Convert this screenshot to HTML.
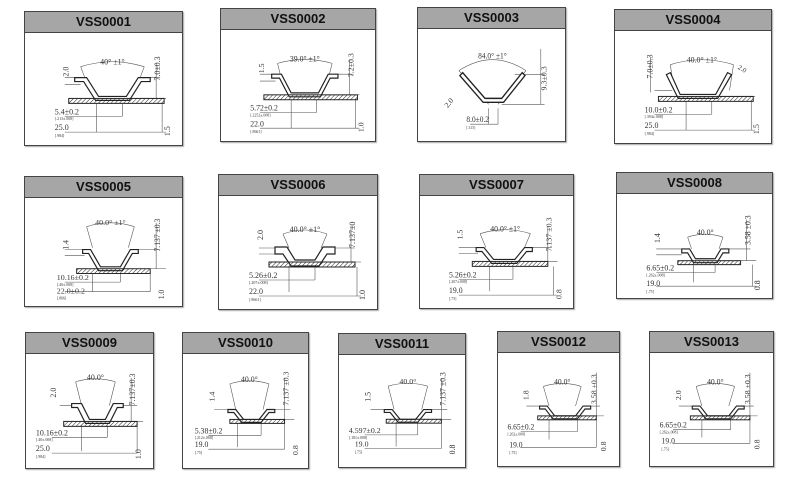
<!DOCTYPE html>
<html><head><meta charset="utf-8"><style>
body{margin:0;width:800px;height:482px;background:#fff;position:relative;overflow:hidden}
.c{position:absolute;border:1px solid #444;background:#fff;box-shadow:1px 1px 1px #aaa;box-sizing:border-box}
.h{background:#a6a6a6;border-bottom:1px solid #444;font:bold 13px "Liberation Sans",sans-serif;text-align:center;height:20px;line-height:20px;color:#111}
svg.d{display:block;width:100%;height:calc(100% - 21px)}
text{font-family:"Liberation Serif",serif;fill:#333}
</style></head><body>
<svg width="0" height="0" style="position:absolute"><defs><pattern id="hp" width="3" height="3" patternUnits="userSpaceOnUse" patternTransform="rotate(45)"><line x1="0" y1="0" x2="0" y2="3" stroke="#222" stroke-width="1"/></pattern></defs></svg>

<div class="c" style="left:24px;top:11px;width:159px;height:135px"><div class="h">VSS0001</div>
<svg class="d" viewBox="0 0 158 113" preserveAspectRatio="none"><g fill="none" stroke="#555" stroke-width=".6"><path d="M56 34Q88 24 120 34M56 34L62 50M120 34L114 50M40 45H58M40 52H56M120 45H136M106 66H142M72 71V100M98 71V84M40 84H98M40 100H142M138 71V100M132 30V66"/></g><path d="M50 45H62L74 64H102L114 45H126V49H117L105 68H71L59 49H50Z" fill="#fff" stroke="#222" stroke-width="1.2"/><rect x="44" y="66" width="96" height="5" fill="url(#hp)" stroke="#222"/><text x="88" y="32" font-size="8" text-anchor="middle">40° ±1°</text><text transform="translate(44,44) rotate(-90)" font-size="8">2.0</text><text x="30" y="82" font-size="8">5.4±0.2</text><text x="30" y="88" font-size="4">[.213±.008]</text><text x="30" y="98" font-size="8">25.0</text><text x="30" y="105" font-size="4">[.984]</text><text transform="translate(136,48) rotate(-90)" font-size="8">7.0±0.3</text><text transform="translate(146,104) rotate(-90)" font-size="8">1.5</text></svg></div>

<div class="c" style="left:220px;top:8px;width:156px;height:134px"><div class="h">VSS0002</div>
<svg class="d" viewBox="0 0 158 113" preserveAspectRatio="none"><g fill="none" stroke="#555" stroke-width=".6"><path d="M58 34Q86 26 114 34M58 34L62 50M114 34L110 50M40 45H58M40 52H56M116 45H136M106 66H142M72 71V100M98 71V84M40 84H98M40 100H142M138 71V100M132 30V66"/></g><path d="M52 45H62L72 64H100L110 45H120V49H112L102 68H70L60 49H52Z" fill="#fff" stroke="#222" stroke-width="1.2"/><rect x="44" y="66" width="96" height="5" fill="url(#hp)" stroke="#222"/><text x="86" y="32" font-size="8" text-anchor="middle">39.0° ±1°</text><text transform="translate(44,44) rotate(-90)" font-size="8">1.5</text><text x="30" y="82" font-size="8">5.72±0.2</text><text x="30" y="88" font-size="4">[.2252±.008]</text><text x="30" y="98" font-size="8">22.0</text><text x="30" y="105" font-size="4">[.8661]</text><text transform="translate(136,48) rotate(-90)" font-size="8">7.2±0.3</text><text transform="translate(146,104) rotate(-90)" font-size="8">1.0</text></svg></div>

<div class="c" style="left:417px;top:7px;width:149px;height:135px"><div class="h">VSS0003</div>
<svg class="d" viewBox="0 0 158 113" preserveAspectRatio="none"><g fill="none" stroke="#555" stroke-width=".6"><path d="M44 42Q80 20 116 42M44 42L76 76M116 42L86 76M76 80V96M86 80V96M56 96H86M104 46H136M90 76H136M132 20V76"/></g><path d="M48 44L72 70H90L112 44L115 47L92 74H70L45 47Z" fill="#fff" stroke="#222" stroke-width="1.4"/><text x="80" y="30" font-size="8" text-anchor="middle">84.0° ±1°</text><text transform="translate(32,80) rotate(-50)" font-size="8">2.0</text><text x="52" y="94" font-size="8">8.0±0.2</text><text x="52" y="101" font-size="4">[.315]</text><text transform="translate(138,62) rotate(-90)" font-size="8">9.3±0.3</text></svg></div>

<div class="c" style="left:614px;top:9px;width:158px;height:135px"><div class="h">VSS0004</div>
<svg class="d" viewBox="0 0 158 113" preserveAspectRatio="none"><g fill="none" stroke="#555" stroke-width=".6"><path d="M56 34Q88 24 120 34M56 34L60 60M120 34L116 60M40 60H58M106 66H142M72 71V100M98 71V84M40 84H98M40 100H142M138 71V100M36 26V62"/></g><path d="M52 44L56 42L66 64H102L114 42L118 44L104 68H64Z" fill="#fff" stroke="#222" stroke-width="1.2"/><rect x="44" y="66" width="96" height="5" fill="url(#hp)" stroke="#222"/><text x="88" y="32" font-size="8" text-anchor="middle">40.0° ±1°</text><text transform="translate(38,48) rotate(-90)" font-size="8">7.0±0.3</text><text transform="translate(124,38) rotate(30)" font-size="7">2.0</text><text x="30" y="82" font-size="8">10.0±0.2</text><text x="30" y="88" font-size="4">[.394±.008]</text><text x="30" y="98" font-size="8">25.0</text><text x="30" y="105" font-size="4">[.984]</text><text transform="translate(146,104) rotate(-90)" font-size="8">1.5</text></svg></div>

<div class="c" style="left:24px;top:176px;width:159px;height:131px"><div class="h">VSS0005</div>
<svg class="d" viewBox="0 0 158 113" preserveAspectRatio="none"><g fill="none" stroke="#555" stroke-width=".6"><path d="M62 30Q86 22 110 30M62 30L68 52M110 30L104 52M40 54H62M40 60H60M112 54H136M106 74H142M68 79V98M96 79V88M40 88H96M40 98H126M126 79V98M132 26V74"/></g><path d="M58 54H66L76 72H96L106 54H114V58H108L98 76H74L64 58H58Z" fill="#fff" stroke="#222" stroke-width="1.2"/><rect x="52" y="74" width="74" height="5" fill="url(#hp)" stroke="#222"/><text x="86" y="28" font-size="8" text-anchor="middle">40.0° ±1°</text><text transform="translate(44,54) rotate(-90)" font-size="8">1.4</text><text x="32" y="86" font-size="8">10.16±0.2</text><text x="32" y="92" font-size="4">[.40±.008]</text><text x="32" y="100" font-size="8">22.0±0.2</text><text x="32" y="106" font-size="4">[.866]</text><text transform="translate(136,56) rotate(-90)" font-size="8">7.137 ±0.3</text><text transform="translate(140,106) rotate(-90)" font-size="8">1.0</text></svg></div>

<div class="c" style="left:218px;top:174px;width:160px;height:136px"><div class="h">VSS0006</div>
<svg class="d" viewBox="0 0 158 113" preserveAspectRatio="none"><g fill="none" stroke="#555" stroke-width=".6"><path d="M64 38Q86 30 108 38M64 38L70 52M108 38L102 52M40 52H60M40 58H60M112 52H136M106 66H142M70 71V96M96 71V84M40 84H96M40 100H142M138 71V100M132 30V66"/></g><path d="M56 51H68L76 64H96L104 51H116V58H108L100 70H72L64 58H56Z" fill="#fff" stroke="#222" stroke-width="1.2"/><rect x="50" y="66" width="86" height="5" fill="url(#hp)" stroke="#222"/><text x="86" y="36" font-size="8" text-anchor="middle">40.0° ±1°</text><text transform="translate(44,44) rotate(-90)" font-size="8">2.0</text><text x="30" y="82" font-size="8">5.26±0.2</text><text x="30" y="88" font-size="4">[.207±.008]</text><text x="30" y="98" font-size="8">22.0</text><text x="30" y="105" font-size="4">[.8661]</text><text transform="translate(136,52) rotate(-90)" font-size="8">7.137±0</text><text transform="translate(146,104) rotate(-90)" font-size="8">1.0</text></svg></div>

<div class="c" style="left:419px;top:174px;width:155px;height:135px"><div class="h">VSS0007</div>
<svg class="d" viewBox="0 0 158 113" preserveAspectRatio="none"><g fill="none" stroke="#555" stroke-width=".6"><path d="M62 38Q88 30 114 38M62 38L68 52M114 38L108 52M40 52H60M40 58H60M116 52H136M106 66H142M72 71V96M96 71V84M40 84H96M40 100H142M138 71V100M132 30V66"/></g><path d="M58 52H66L76 64H98L108 52H116V56H110L100 68H74L64 56H58Z" fill="#fff" stroke="#222" stroke-width="1.2"/><rect x="54" y="66" width="78" height="5" fill="url(#hp)" stroke="#222"/><text x="88" y="36" font-size="8" text-anchor="middle">40.0° ±1°</text><text transform="translate(44,44) rotate(-90)" font-size="8">1.5</text><text x="30" y="82" font-size="8">5.26±0.2</text><text x="30" y="88" font-size="4">[.207±.008]</text><text x="30" y="98" font-size="8">19.0</text><text x="30" y="105" font-size="4">[.75]</text><text transform="translate(136,56) rotate(-90)" font-size="8">7.137 ±0.3</text><text transform="translate(146,104) rotate(-90)" font-size="8">0.8</text></svg></div>

<div class="c" style="left:616px;top:172px;width:157px;height:127px"><div class="h">VSS0008</div>
<svg class="d" viewBox="0 0 158 106" preserveAspectRatio="none"><g fill="none" stroke="#555" stroke-width=".6"><path d="M72 44Q90 38 108 44M72 44L76 56M108 44L104 56M40 56H68M40 62H66M112 56H136M106 68H142M78 72V90M100 72V80M40 80H100M40 94H142M138 72V94M132 26V68"/></g><path d="M66 56H74L80 66H100L106 56H114V60H108L102 70H78L72 60H66Z" fill="#fff" stroke="#222" stroke-width="1.2"/><rect x="62" y="68" width="64" height="4" fill="url(#hp)" stroke="#222"/><text x="90" y="42" font-size="8" text-anchor="middle">40.0°</text><text transform="translate(44,50) rotate(-90)" font-size="8">1.4</text><text x="30" y="78" font-size="8">6.65±0.2</text><text x="30" y="84" font-size="4">[.262±.008]</text><text x="30" y="94" font-size="8">19.0</text><text x="30" y="101" font-size="4">[.75]</text><text transform="translate(136,52) rotate(-90)" font-size="8">3.58 ±0.3</text><text transform="translate(146,98) rotate(-90)" font-size="8">0.8</text></svg></div>

<div class="c" style="left:25px;top:332px;width:129px;height:137px"><div class="h">VSS0009</div>
<svg class="d" viewBox="0 0 128 115" preserveAspectRatio="none"><g fill="none" stroke="#555" stroke-width=".6"><path d="M50 28Q70 22 90 28M50 28L56 52M90 28L84 52M34 52H50M96 52H112M90 68H118M56 72V98M82 72V84M26 84H82M26 100H112M112 72V100M106 24V68"/></g><path d="M46 50H56L64 66H80L88 50H98V54H92L84 70H60L52 54H46Z" fill="#fff" stroke="#222" stroke-width="1.2"/><rect x="38" y="68" width="74" height="5" fill="url(#hp)" stroke="#222"/><text x="70" y="26" font-size="8" text-anchor="middle">40.0°</text><text transform="translate(30,44) rotate(-90)" font-size="8">2.0</text><text x="10" y="82" font-size="8">10.16±0.2</text><text x="10" y="88" font-size="4">[.40±.008]</text><text x="10" y="98" font-size="8">25.0</text><text x="10" y="105" font-size="4">[.984]</text><text transform="translate(110,52) rotate(-90)" font-size="8">7.137±0.3</text><text transform="translate(116,106) rotate(-90)" font-size="8">1.0</text></svg></div>

<div class="c" style="left:182px;top:332px;width:127px;height:137px"><div class="h">VSS0010</div>
<svg class="d" viewBox="0 0 128 115" preserveAspectRatio="none"><g fill="none" stroke="#555" stroke-width=".6"><path d="M48 30Q68 24 88 30M48 30L54 56M88 30L82 56M32 56H50M92 56H110M86 66H114M56 70V94M80 70V82M26 82H80M26 96H104M104 70V96M104 24V66"/></g><path d="M46 56H54L62 66H78L86 56H94V59H88L80 69H60L52 59H46Z" fill="#fff" stroke="#222" stroke-width="1.2"/><rect x="48" y="66" width="56" height="4" fill="url(#hp)" stroke="#222"/><text x="68" y="28" font-size="8" text-anchor="middle">40.0°</text><text transform="translate(32,48) rotate(-90)" font-size="8">1.4</text><text x="12" y="80" font-size="8">5.38±0.2</text><text x="12" y="86" font-size="4">[.212±.008]</text><text x="12" y="94" font-size="8">19.0</text><text x="12" y="101" font-size="4">[.75]</text><text transform="translate(108,52) rotate(-90)" font-size="8">7.137 ±0.3</text><text transform="translate(118,102) rotate(-90)" font-size="8">0.8</text></svg></div>

<div class="c" style="left:338px;top:333px;width:128px;height:135px"><div class="h">VSS0011</div>
<svg class="d" viewBox="0 0 128 115" preserveAspectRatio="none"><g fill="none" stroke="#555" stroke-width=".6"><path d="M50 32Q70 26 90 32M50 32L56 56M90 32L84 56M32 56H50M92 56H110M86 66H114M58 70V94M80 70V82M26 82H80M26 96H104M104 70V96M104 24V66"/></g><path d="M46 56H54L62 66H78L86 56H94V59H88L80 69H60L52 59H46Z" fill="#fff" stroke="#222" stroke-width="1.2"/><rect x="48" y="66" width="56" height="4" fill="url(#hp)" stroke="#222"/><text x="70" y="30" font-size="8" text-anchor="middle">40.0°</text><text transform="translate(32,48) rotate(-90)" font-size="8">1.5</text><text x="10" y="80" font-size="8">4.597±0.2</text><text x="10" y="86" font-size="4">[.181±.008]</text><text x="16" y="94" font-size="8">19.0</text><text x="16" y="101" font-size="4">[.75]</text><text transform="translate(108,52) rotate(-90)" font-size="8">7.137 ±0.3</text><text transform="translate(118,102) rotate(-90)" font-size="8">0.8</text></svg></div>

<div class="c" style="left:497px;top:331px;width:123px;height:136px"><div class="h">VSS0012</div>
<svg class="d" viewBox="0 0 128 115" preserveAspectRatio="none"><g fill="none" stroke="#555" stroke-width=".6"><path d="M48 34Q68 28 88 34M48 34L54 54M88 34L82 54M30 54H48M92 54H108M86 64H112M54 68V88M84 68V80M24 80H84M24 96H104M104 68V96M104 20V64"/></g><path d="M44 54H52L60 64H82L90 54H98V57H92L84 67H58L50 57H44Z" fill="#fff" stroke="#222" stroke-width="1.2"/><rect x="42" y="64" width="62" height="4" fill="url(#hp)" stroke="#222"/><text x="68" y="32" font-size="8" text-anchor="middle">40.0°</text><text transform="translate(32,48) rotate(-90)" font-size="8">1.8</text><text x="10" y="78" font-size="8">6.65±0.2</text><text x="10" y="84" font-size="4">[.262±.008]</text><text x="12" y="96" font-size="8">19.0</text><text x="12" y="103" font-size="4">[.75]</text><text transform="translate(104,52) rotate(-90)" font-size="8">3.58 ±0.3</text><text transform="translate(114,100) rotate(-90)" font-size="8">0.8</text></svg></div>

<div class="c" style="left:649px;top:331px;width:125px;height:136px"><div class="h">VSS0013</div>
<svg class="d" viewBox="0 0 128 115" preserveAspectRatio="none"><g fill="none" stroke="#555" stroke-width=".6"><path d="M48 34Q68 28 88 34M48 34L54 54M88 34L82 54M30 54H48M92 54H108M86 64H112M54 68V86M84 68V78M24 78H84M24 92H104M104 68V92M104 20V64"/></g><path d="M44 54H52L60 64H82L90 54H98V57H92L84 67H58L50 57H44Z" fill="#fff" stroke="#222" stroke-width="1.2"/><rect x="42" y="64" width="62" height="4" fill="url(#hp)" stroke="#222"/><text x="68" y="32" font-size="8" text-anchor="middle">40.0°</text><text transform="translate(32,48) rotate(-90)" font-size="8">2.0</text><text x="10" y="76" font-size="8">6.65±0.2</text><text x="10" y="82" font-size="4">[.262±.008]</text><text x="12" y="92" font-size="8">19.0</text><text x="12" y="99" font-size="4">[.75]</text><text transform="translate(104,52) rotate(-90)" font-size="8">3.58 ±0.3</text><text transform="translate(114,98) rotate(-90)" font-size="8">0.8</text></svg></div>
</body></html>
